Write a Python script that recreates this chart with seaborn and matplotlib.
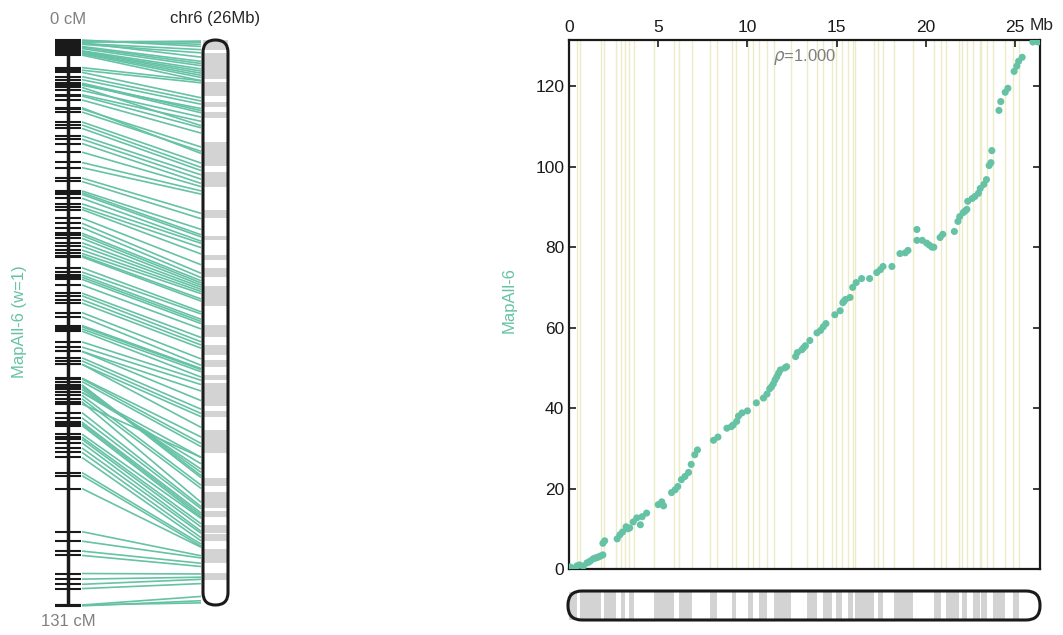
import numpy as np
import pandas as pd
import seaborn as sns
import matplotlib.pyplot as plt
from matplotlib.patches import FancyBboxPatch, Rectangle
from matplotlib.collections import LineCollection

sns.set_theme(style='white')
plt.rcParams['font.family'] = ['Liberation Sans', 'DejaVu Sans']

# chromosome / map info
chrom_name = 'chr6'
chrom_len = 26.4      # Mb
map_name = 'MapAll-6'
map_weight = 1
map_len = 131         # cM
rho = 1.000

# markers: physical position (Mb) and genetic position (cM)
marker_mb = [0.05, 0.1, 0.2, 0.3, 0.45, 0.6, 0.8, 1.0, 1.1, 1.2,
             1.35, 1.45, 1.55, 1.65, 1.75, 1.9, 1.9, 2.0, 2.7, 2.85,
             3.0, 3.2, 3.3, 3.4, 3.6, 3.8, 4.0, 4.1, 4.35, 5.0,
             5.2, 5.3, 5.75, 5.95, 6.1, 6.3, 6.5, 6.7, 6.85, 7.05,
             7.2, 8.1, 8.35, 8.85, 9.1, 9.2, 9.4, 9.5, 9.7, 10.0,
             10.5, 10.9, 11.1, 11.25, 11.35, 11.45, 11.55, 11.65, 11.75, 11.85,
             12.1, 12.2, 12.7, 12.8, 13.05, 13.15, 13.25, 13.5, 13.9, 14.1,
             14.25, 14.4, 14.9, 15.2, 15.35, 15.4, 15.5, 15.75, 15.9, 16.1,
             16.4, 16.85, 17.25, 17.45, 17.6, 18.1, 18.55, 18.85, 19.0, 19.5,
             19.5, 19.8, 20.05, 20.2, 20.35, 20.45, 20.8, 20.95, 21.6, 21.8,
             21.9, 22.1, 22.2, 22.3, 22.35, 22.6, 22.75, 22.95, 23.05, 23.25,
             23.4, 23.55, 23.65, 23.7, 24.1, 24.2, 24.45, 24.6, 24.95, 25.1,
             25.2, 25.4, 26.0, 26.2, 26.3]
marker_cm = [0.5, 0.3, 0.2, 0.0, 0.8, 1.0, 0.7, 1.5, 1.7, 2.0,
             2.5, 2.7, 2.8, 3.0, 3.2, 3.5, 6.4, 7.0, 7.5, 8.5,
             9.2, 10.5, 10.0, 10.2, 11.7, 12.7, 11.0, 13.0, 13.9, 16.0,
             16.7, 15.7, 19.0, 19.7, 20.5, 22.2, 23.0, 24.0, 26.0, 28.4,
             29.6, 32.0, 32.8, 35.0, 35.4, 35.8, 36.7, 38.0, 38.8, 39.3,
             41.3, 42.5, 43.5, 44.8, 45.3, 46.0, 47.0, 47.8, 48.7, 49.5,
             50.0, 50.3, 52.8, 53.8, 54.5, 55.0, 55.5, 56.8, 58.7, 59.3,
             60.2, 61.0, 63.2, 64.2, 66.2, 66.5, 67.0, 67.5, 70.0, 71.2,
             72.2, 72.2, 73.7, 74.4, 75.2, 75.2, 78.4, 78.6, 79.2, 84.4,
             81.7, 81.7, 81.0, 80.5, 80.0, 80.0, 82.4, 83.2, 83.9, 86.4,
             87.6, 88.6, 89.0, 89.4, 91.4, 92.1, 92.6, 93.4, 94.6, 95.6,
             96.8, 100.3, 101.0, 104.0, 114.0, 116.2, 118.5, 119.5, 123.7, 125.0,
             126.2, 127.2, 131.0, 131.2, 131.0]

# gray scaffold bands on the chromosome (Mb)
band_start = [0.0, 0.62, 1.96, 2.92, 3.38, 4.75, 6.18, 7.92, 9.15, 10.05,
              10.65, 11.49, 13.32, 14.26, 14.97, 15.65, 16.03, 17.34, 18.24, 20.48,
              21.11, 22.01, 22.66, 23.1, 23.78, 24.91]
band_end = [0.47, 1.82, 2.63, 3.14, 3.64, 5.9, 6.88, 8.3, 9.36, 10.3,
            11.08, 12.43, 13.88, 14.72, 15.28, 15.9, 17.11, 17.62, 19.3, 20.85,
            21.88, 22.29, 23.04, 23.41, 24.44, 25.22]

green = '#66c2a5'
df = pd.DataFrame({'Mb': marker_mb, 'cM': marker_cm})

fig = plt.figure(figsize=(10.63, 6.35), dpi=100)

# overlay in pixel units for the linkage map and the chromosome drawings
ov = fig.add_axes([0, 0, 1, 1])
ov.set_xlim(0, 1063)
ov.set_ylim(635, 0)
ov.axis('off')


def cm_y(v):
    return 40 + np.asarray(v) / map_len * 565


def mb_y(v):
    return 40 + np.asarray(v) / chrom_len * 565


def mb_x(v):
    return 569 + np.asarray(v) / chrom_len * 471


# linkage map
ov.plot([68, 68], [cm_y(0), cm_y(map_len)], color='k', lw=2.5, solid_capstyle='butt')
ticks = [[(55, y), (81, y)] for y in cm_y(df['cM'])]
ov.add_collection(LineCollection(ticks, colors='k', lw=1.5))
links = [[(82, cm_y(c)), (201, mb_y(m))] for m, c in zip(df['Mb'], df['cM'])]
ov.add_collection(LineCollection(links, colors=green, lw=1.2))

ov.text(68, 20, '0 cM', ha='center', va='center', color='gray', fontsize=12)
ov.text(68, 621, f'{map_len} cM', ha='center', va='center', color='gray', fontsize=12)
ov.text(215, 18, f'{chrom_name} ({round(chrom_len)}Mb)', ha='center', va='center', fontsize=12)
ov.text(20, 322, f'{map_name} (w={map_weight})', rotation=90, ha='center', va='center',
        color=green, fontsize=12)

# vertical chromosome
for s, e in zip(band_start, band_end):
    ov.add_patch(Rectangle((203, mb_y(s)), 25, mb_y(e) - mb_y(s), fc='lightgray', ec='none', zorder=2))
ov.add_patch(FancyBboxPatch((203, 40), 25, 565, boxstyle='round,pad=0,rounding_size=12.5',
                            fc='none', ec='k', lw=2.2, zorder=3))

# horizontal chromosome under the dot plot
for s, e in zip(band_start, band_end):
    ov.add_patch(Rectangle((mb_x(s), 592), mb_x(e) - mb_x(s), 28, fc='lightgray', ec='none', zorder=2))
ov.add_patch(FancyBboxPatch((568, 591), 472, 29, boxstyle='round,pad=0,rounding_size=14',
                            fc='none', ec='k', lw=2.2, zorder=3))

# dot plot
ax = fig.add_axes([569 / 1063, 66 / 635, 471 / 1063, 529 / 635])
for b in sorted(set(band_start + band_end)):
    ax.axvline(b, color='#ececc8', lw=1, zorder=0)
sns.scatterplot(data=df, x='Mb', y='cM', color=green, s=26, edgecolor='none', ax=ax, zorder=3)
ax.set_xlim(0, chrom_len)
ax.set_ylim(0, 131.5)
ax.set_xticks(range(0, 26, 5))
ax.set_yticks(range(0, 121, 20))
ax.xaxis.tick_top()
ax.tick_params(direction='in', length=5, width=1.2, labelsize=12.5, colors='k',
               top=True, bottom=False, left=True, right=True, labeltop=True, labelbottom=False)
for sp in ax.spines.values():
    sp.set_color('k')
    sp.set_linewidth(1.6)
ax.set_xlabel('')
ax.set_ylabel('')
ax.text(0.979, 1 + 15 / 529, 'Mb', transform=ax.transAxes, ha='left', va='center', fontsize=12.5)
ax.text(-0.127, 0.508, map_name, transform=ax.transAxes, rotation=90, ha='center', va='center',
        color=green, fontsize=12)
ax.text(0.501, 0.968, rf'$\rho$={rho:.3f}', transform=ax.transAxes, ha='center', va='center',
        color='gray', fontsize=12)

fig.savefig('out.png', dpi=100)
